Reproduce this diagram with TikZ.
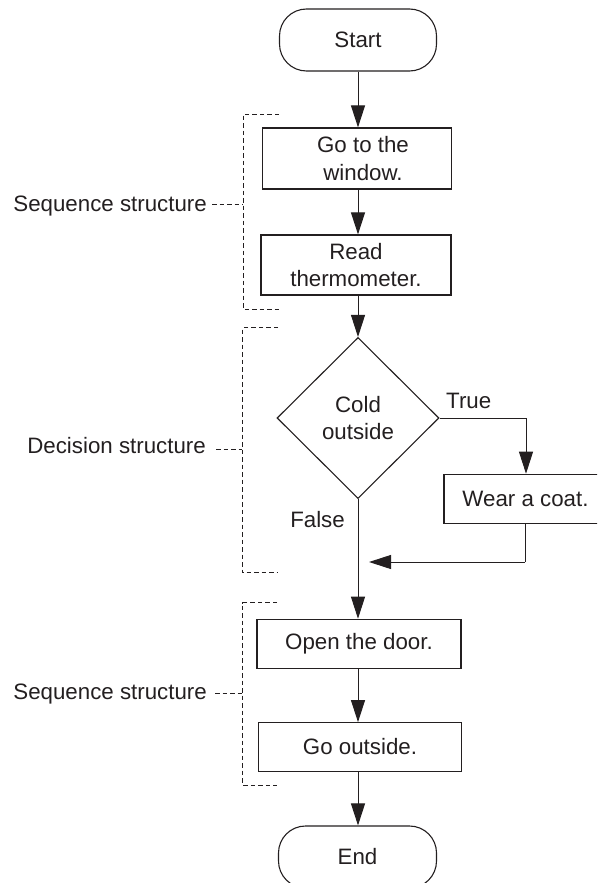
\documentclass[tikz,border=0pt]{standalone}
\usepackage{fontspec}
\setmainfont{Liberation Sans}
\usetikzlibrary{arrows.meta,shapes.geometric}
\definecolor{ink}{HTML}{231F20}
\begin{document}
\begin{tikzpicture}[x=1pt,y=-1pt,
  every node/.style={font=\fontsize{22.3}{27.3}\selectfont, text=ink},
  procbox/.style={draw=ink, line width=1.2pt, rectangle, inner sep=0pt, align=center},
  termbox/.style={draw=ink, line width=1.1pt, rectangle, rounded corners=27pt, inner sep=0pt, minimum width=157pt, minimum height=62pt},
  decbox/.style={draw=ink, line width=1.1pt, diamond, aspect=1, inner sep=0pt, minimum width=162pt, minimum height=161pt, align=center},
  arr/.style={draw=ink, line width=1pt, -{Triangle[length=22pt,width=14pt]}},
  plainline/.style={draw=ink, line width=1pt},
  bracket/.style={draw=ink, line width=0.9pt, dash pattern=on 4.5pt off 3pt},
  sidelabel/.style={inner sep=0pt, anchor=base east},
  flowlabel/.style={inner sep=0pt}
]
\useasboundingbox (0,0) rectangle (597,883);
\clip (0,0) rectangle (597,883);

% main nodes
\node[termbox] (start) at (358,40) {Start};
\node[procbox, minimum width=189pt, minimum height=61pt] (b1) at (357,158.5) {\hspace*{12pt}Go to the\\\hspace*{12pt}window.};
\node[procbox, minimum width=190pt, minimum height=60pt] (b2) at (356,265) {Read\\thermometer.};
\node[decbox] (dec) at (358,418) {Cold\\outside};
\node[procbox, minimum width=163pt, minimum height=49pt] (wear) at (525.5,498.8) {Wear a coat.};
\node[procbox, minimum width=204pt, minimum height=49pt] (open) at (359,643.8) {Open the door.};
\node[procbox, minimum width=203pt, minimum height=48.6pt] (go) at (360,747) {Go outside.};
\node[termbox, minimum width=158pt] (end) at (357.5,857) {End};

% flow labels
\node[flowlabel, anchor=base west] (truelbl) at (446,408) {True};
\node[flowlabel, anchor=base east] (falselbl) at (345,527) {False};

% connectors
\draw[arr] (start.south) -- (start.south |- b1.north);
\draw[arr] (b1.south -| start.south) -- (start.south |- b2.north);
\draw[arr] (b2.south -| dec.north) -- (dec.north);
\draw[arr] (dec.south) -- (dec.south |- open.north);
\draw[arr] (dec.east) -| (wear.north -| 526,0);
\coordinate (joinA) at (525,562);
\coordinate (joinB) at (369,562);
\draw[plainline] (wear.south -| joinA) -- (joinA);
\draw[arr] (joinA) -- (joinB);
\draw[arr] (open.south -| dec.south) -- (dec.south |- go.north);
\draw[arr] (go.south -| dec.south) -- (dec.south |- end.north);

% structure brackets
\draw[bracket] (279,114) -- (243,114) -- (243,309) -- (279,309);
\draw[bracket] (278,327.7) -- (242.3,327.7) -- (242.3,572.7) -- (278,572.7);
\draw[bracket] (277,602.5) -- (242.7,602.5) -- (242.7,785) -- (277,785);

% side labels
\node[sidelabel] (seqA) at (207,211.7) {Sequence structure};
\node[sidelabel] (decl) at (206,453) {Decision structure};
\node[sidelabel] (seqB) at (207,699) {Sequence structure};
\draw[bracket] (212,204) -- (243,204);
\draw[bracket] (216,449) -- (242.3,449);
\draw[bracket] (215,693) -- (242.7,693);
\end{tikzpicture}
\end{document}
